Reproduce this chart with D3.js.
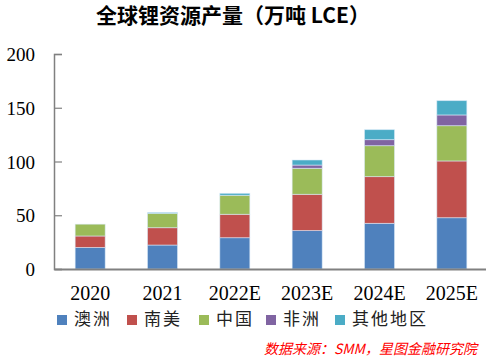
<!DOCTYPE html>
<html>
<head>
<meta charset="utf-8">
<script src="https://cdn.jsdelivr.net/npm/d3@7"></script>
<style>
  body { margin: 0; background: #fff; }
  svg { display: block; }
</style>
</head>
<body>
<div id="chart"></div>
<script>
// ---- data ----
var years = ["2020", "2021", "2022E", "2023E", "2024E", "2025E"];
var regions = ["澳洲", "南美", "中国", "非洲", "其他地区"];
var australia = [20, 22.3, 29.1, 35.7, 42.5, 47.7];
var southAmerica = [10.7, 16.1, 21.8, 33.8, 43.4, 52.8];
var china = [11, 13.4, 17.7, 24.2, 28.8, 32.8];
var africa = [0, 0, 0, 3, 5.6, 10];
var others = [0, 0.8, 1.8, 4.7, 9.3, 13.3];
var yTicks = [0, 50, 100, 150, 200];
var colors = ["#4F81BD", "#C0504D", "#9BBB59", "#8064A2", "#4BACC6"];

var svgWidth = 486, svgHeight = 358;
var svg = d3.select("#chart").append("svg")
  .attr("width", svgWidth).attr("height", svgHeight);

var series = [australia, southAmerica, china, africa, others];
var table = years.map((y, i) => {
  var row = { year: y };
  regions.forEach((r, k) => row[r] = series[k][i]);
  return row;
});
var stacked = d3.stack().keys(regions)(table);

var x = d3.scaleBand().domain(years).range([54, 488]).paddingInner(0.585).paddingOuter(0.2925);
var y = d3.scaleLinear().domain([0, 200]).range([269, 54]);

// title
svg.append("text")
  .attr("x", 233).attr("y", 23)
  .attr("text-anchor", "middle")
  .attr("font-family", "'Noto Sans CJK SC', sans-serif")
  .attr("font-weight", "bold")
  .attr("font-size", 21)
  .text("全球锂资源产量（万吨 LCE）");

// bars
svg.append("g").selectAll("g")
  .data(stacked)
  .join("g")
  .attr("fill", (d, i) => colors[i])
  .selectAll("rect")
  .data(d => d)
  .join("rect")
  .attr("x", d => x(d.data.year))
  .attr("width", x.bandwidth())
  .attr("y", d => y(d[1]))
  .attr("height", d => Math.max(0, y(d[0]) - y(d[1])))
  .attr("stroke", "rgba(220,235,250,0.7)")
  .attr("stroke-width", 0.8);

// y axis
var yAxis = svg.append("g")
  .attr("transform", "translate(54,0)")
  .call(d3.axisRight(y).tickValues(yTicks).tickSize(8).tickFormat(d3.format("d")));
yAxis.select(".domain").attr("stroke", "#808080").attr("stroke-width", 1.5);
yAxis.selectAll(".tick line").attr("stroke", "#808080").attr("stroke-width", 1.2);
yAxis.selectAll(".tick text")
  .attr("x", -19).attr("dy", "0.35em")
  .attr("text-anchor", "end")
  .attr("font-family", "'Liberation Serif', serif")
  .attr("font-size", 19)
  .attr("fill", "#000");

// x axis
var xAxis = svg.append("g")
  .attr("transform", "translate(0,269)")
  .call(d3.axisBottom(x).tickSize(0).tickSizeOuter(0));
xAxis.select(".domain").attr("stroke", "#808080").attr("stroke-width", 2);
xAxis.selectAll(".tick text")
  .attr("y", 17)
  .attr("font-family", "'Liberation Serif', serif")
  .attr("font-size", 20)
  .attr("fill", "#000");

// legend
var legendX = [57, 127, 199, 266, 335];
var legend = svg.append("g").selectAll("g")
  .data(regions)
  .join("g")
  .attr("transform", (d, i) => `translate(${legendX[i]},315)`);
legend.append("rect")
  .attr("width", 10).attr("height", 10)
  .attr("fill", (d, i) => colors[i]);
legend.append("text")
  .attr("x", 17).attr("y", 10)
  .attr("font-family", "'Noto Sans CJK SC', sans-serif")
  .attr("font-size", 17)
  .attr("letter-spacing", 2)
  .attr("fill", "#222")
  .text(d => d);

// source
svg.append("text")
  .attr("x", 477).attr("y", 354)
  .attr("text-anchor", "end")
  .attr("font-family", "'Noto Sans CJK SC', sans-serif")
  .attr("font-size", 14)
  .attr("font-style", "italic")
  .attr("fill", "#FF0000")
  .text("数据来源：SMM，星图金融研究院");
</script>
</body>
</html>
